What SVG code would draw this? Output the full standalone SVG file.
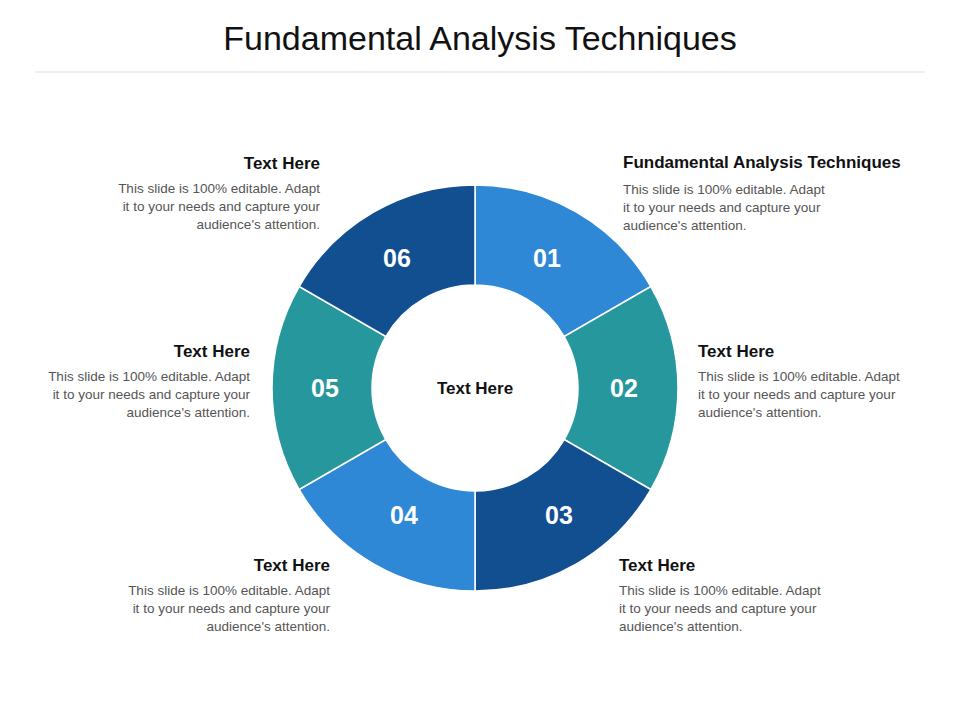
<svg xmlns="http://www.w3.org/2000/svg" width="960" height="720" viewBox="0 0 960 720">
<style>
.t{font-family:"Liberation Sans",Arial,sans-serif}
.h{font-family:"Liberation Sans",Arial,sans-serif;font-weight:bold;font-size:17px;fill:#111}
.b{font-family:"Liberation Sans",Arial,sans-serif;font-size:13.5px;fill:#555}
.n{font-family:"Liberation Sans",Arial,sans-serif;font-weight:bold;font-size:25px;fill:#fff;text-anchor:middle}
.seg{stroke:#fff;stroke-width:1.5}
</style>
<rect width="960" height="720" fill="#fff"/>
<text class="t" x="480" y="50" font-size="34" text-anchor="middle" fill="#111">Fundamental Analysis Techniques</text>
<line x1="35" y1="72" x2="925" y2="72" stroke="#ddd" stroke-width="1"/>
<g id="connectors"></g>
<g id="seg01"><path class="seg" fill="#2E88D6" d="M475,185 A203,203 0 0 1 650.8,286.5 L564.2,336.5 A103,103 0 0 0 475,285 Z"/><text class="n" x="547" y="267">01</text></g>
<g id="seg02"><path class="seg" fill="#27979E" d="M650.8,286.5 A203,203 0 0 1 650.8,489.5 L564.2,439.5 A103,103 0 0 0 564.2,336.5 Z"/><text class="n" x="624" y="397">02</text></g>
<g id="seg03"><path class="seg" fill="#124F91" d="M650.8,489.5 A203,203 0 0 1 475,591 L475,491 A103,103 0 0 0 564.2,439.5 Z"/><text class="n" x="559" y="524">03</text></g>
<g id="seg04"><path class="seg" fill="#2E88D6" d="M475,591 A203,203 0 0 1 299.2,489.5 L385.8,439.5 A103,103 0 0 0 475,491 Z"/><text class="n" x="404" y="524">04</text></g>
<g id="seg05"><path class="seg" fill="#27979E" d="M299.2,489.5 A203,203 0 0 1 299.2,286.5 L385.8,336.5 A103,103 0 0 0 385.8,439.5 Z"/><text class="n" x="325" y="397">05</text></g>
<g id="seg06"><path class="seg" fill="#124F91" d="M299.2,286.5 A203,203 0 0 1 475,185 L475,285 A103,103 0 0 0 385.8,336.5 Z"/><text class="n" x="397" y="267">06</text></g>
<g id="center"><text class="h" x="475" y="394" text-anchor="middle">Text Here</text></g>
<g id="txt01"><text class="h" x="623" y="168">Fundamental Analysis Techniques</text>
<text class="b" x="623" y="194">This slide is 100% editable. Adapt</text><text class="b" x="623" y="212">it to your needs and capture your</text><text class="b" x="623" y="230">audience's attention.</text></g>
<g id="txt02"><text class="h" x="698" y="357">Text Here</text>
<text class="b" x="698" y="381">This slide is 100% editable. Adapt</text><text class="b" x="698" y="399">it to your needs and capture your</text><text class="b" x="698" y="417">audience's attention.</text></g>
<g id="txt03"><text class="h" x="619" y="571">Text Here</text>
<text class="b" x="619" y="595">This slide is 100% editable. Adapt</text><text class="b" x="619" y="613">it to your needs and capture your</text><text class="b" x="619" y="631">audience's attention.</text></g>
<g id="txt04" text-anchor="end"><text class="h" x="330" y="571">Text Here</text>
<text class="b" x="330" y="595">This slide is 100% editable. Adapt</text><text class="b" x="330" y="613">it to your needs and capture your</text><text class="b" x="330" y="631">audience's attention.</text></g>
<g id="txt05" text-anchor="end"><text class="h" x="250" y="357">Text Here</text>
<text class="b" x="250" y="381">This slide is 100% editable. Adapt</text><text class="b" x="250" y="399">it to your needs and capture your</text><text class="b" x="250" y="417">audience's attention.</text></g>
<g id="txt06" text-anchor="end"><text class="h" x="320" y="169">Text Here</text>
<text class="b" x="320" y="193">This slide is 100% editable. Adapt</text><text class="b" x="320" y="211">it to your needs and capture your</text><text class="b" x="320" y="229">audience's attention.</text></g>
</svg>
